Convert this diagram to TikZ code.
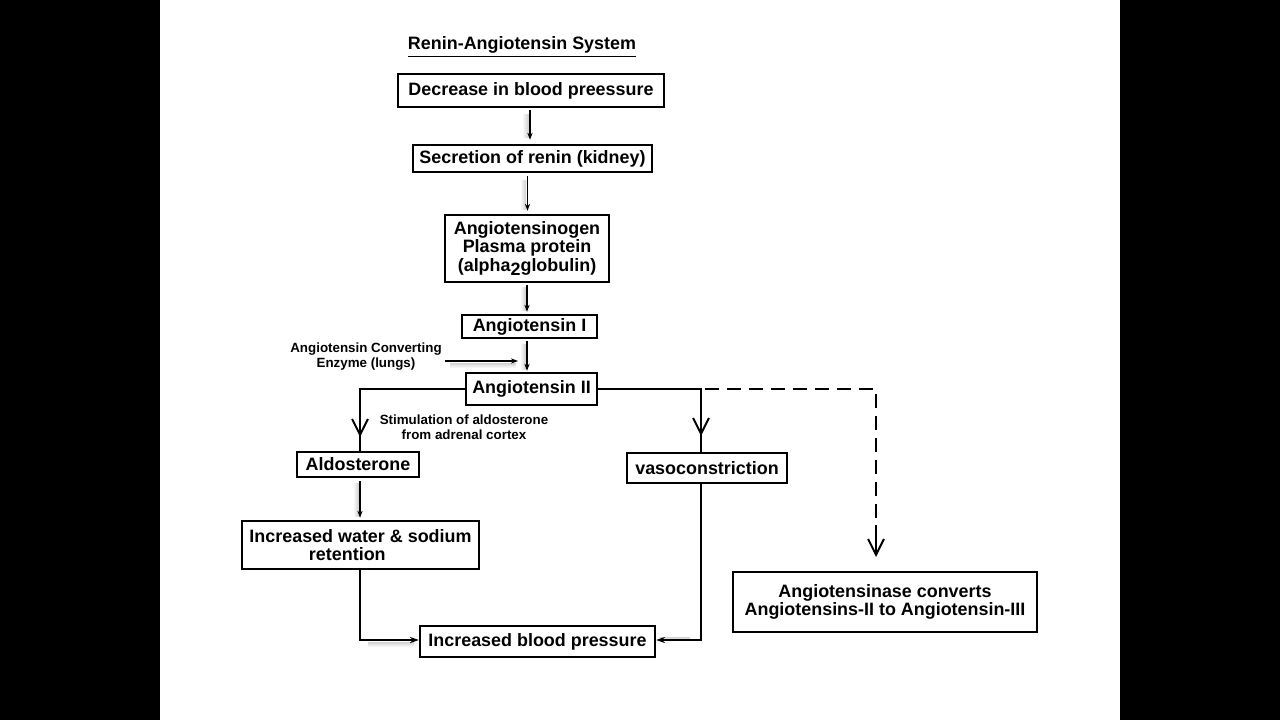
\documentclass[tikz,border=0pt]{standalone}
\usepackage{fontspec}
\setmainfont{Liberation Sans}
\usetikzlibrary{arrows.meta,positioning}
\begin{document}
\begin{tikzpicture}[x=0.02cm,y=-0.02cm,
  box/.style={draw=black,line width=1.4pt,inner sep=0pt,align=center,
     font=\fontsize{10.2}{10.6}\selectfont\bfseries},
  lbl/.style={inner sep=0pt,align=center,font=\fontsize{7.6}{8.6}\selectfont\bfseries},
  thinarr/.style={line width=0.7pt,-{Stealth[length=4pt,width=3pt]}},
  conn/.style={line width=1.1pt},
  barb/.style={line width=1.1pt,-{Straight Barb[length=9pt,width=9pt,line width=1.1pt]}},
  elbow/.style={line width=1.1pt,-{Stealth[length=5pt,width=3.5pt]}},
  dline/.style={line width=1.4pt,dash pattern=on 8pt off 4.5pt},
  vshade/.style={left color=white,right color=gray!40},
  hshade/.style={top color=gray!35,bottom color=white}]
\useasboundingbox (0,0) rectangle (1280,720);
\fill[black] (0,0) rectangle (160,720);
\fill[black] (1120,0) rectangle (1280,720);

% faint shadows beside arrows
\shade[vshade] (522,114) rectangle (529,137);
\shade[vshade] (520,180) rectangle (526,209);
\shade[vshade] (520,287) rectangle (526,310);
\shade[vshade] (520,344) rectangle (526,369);
\shade[vshade] (353,483) rectangle (359,516);
\shade[hshade] (450,363) rectangle (516,368);
\shade[hshade] (368,642) rectangle (414,647);
\shade[hshade] (660,637) rectangle (690,641);

\node[inner sep=0pt,font=\fontsize{10.2}{11}\selectfont\bfseries] (title) at (522,47) {\underline{Renin-Angiotensin System}};

\node[box,fill=white,minimum width=266*0.02cm,minimum height=33*0.02cm] (dec) at (531,90.5) {Decrease in blood preessure};
\node[box,minimum width=239*0.02cm,minimum height=27*0.02cm] (sec) at (532.5,158.5) {Secretion of renin (kidney)};
\node[box,minimum width=164*0.02cm,minimum height=67*0.02cm] (agen) at (527,248.5) {Angiotensinogen\\Plasma protein\\(alpha\raisebox{-0.45ex}{2}globulin)};
\node[box,minimum width=135*0.02cm,minimum height=23*0.02cm] (a1) at (529.5,326.5) {Angiotensin I};
\node[box,minimum width=131*0.02cm,minimum height=32*0.02cm] (a2) at (531.5,389) {Angiotensin II};
\node[box,minimum width=122*0.02cm,minimum height=25*0.02cm] (ald) at (358,464.5) {Aldosterone};
\node[box,minimum width=160*0.02cm,minimum height=30*0.02cm] (vaso) at (707,468) {vasoconstriction};
\node[box,minimum width=237*0.02cm,minimum height=48*0.02cm] (water) at (360.5,545) {Increased water \& sodium\\retention\hspace*{15pt}};
\node[box,minimum width=235*0.02cm,minimum height=31*0.02cm] (ibp) at (537.5,641.5) {Increased blood pressure};
\node[box,minimum width=304*0.02cm,minimum height=60*0.02cm] (ase) at (885,602) {Angiotensinase converts\\Angiotensins-II to Angiotensin-III};

\node[lbl] (ace) at (366,356.5) {Angiotensin Converting\\Enzyme (lungs)};
\node[lbl] (stim) at (464,427) {Stimulation of aldosterone\\from adrenal cortex};

% vertical thin arrows
\draw[thinarr] ([xshift=-0.02cm]dec.south) ++(0,2) coordinate (d1) -- ([yshift=0.08cm]sec.north -| d1);
\draw[thinarr] ([xshift=-0.1cm]sec.south) ++(0,3) coordinate (d2) -- ([yshift=0.06cm]agen.north -| d2);
\draw[thinarr] (agen.south) ++(0,2) coordinate (d3) -- ([yshift=0.04cm]a1.north -| d3);
\draw[thinarr] ([xshift=-0.05cm]a1.south) ++(0,2) coordinate (d4) -- ([yshift=0.02cm]a2.north -| d4);
\coordinate (acetip) at (518,361);
\draw[thinarr] (445,361) coordinate (acestart) -- (acetip);
\draw[thinarr] ([xshift=0.04cm]ald.south) ++(0,3) coordinate (d5) -- ([yshift=0.04cm]water.north -| d5);

% left branch
\coordinate (lc) at (360,389);
\coordinate (ltip) at (360,437);
\draw[conn] (a2.west) -- (lc) -- (ltip);
\draw[barb] (360,420) -- (ltip);
\draw[conn] (ltip) -- (ltip |- ald.north);

% right branch
\coordinate (rc) at (701,389);
\coordinate (rtip) at (701,436);
\draw[conn] (a2.east) -- (rc) -- (rtip);
\draw[barb] (701,420) -- (rtip);
\draw[conn] (rtip) -- (rtip |- vaso.north);

% dashed branch
\coordinate (dc) at (876,389);
\coordinate (dtip) at (876,557);
\draw[dline] (rc) ++(4,0) -- (dc) -- (876,545);
\draw[barb] (876,540) -- (dtip);

% bottom
\coordinate (wb) at (360,640);
\draw[elbow] (water.south -| wb) -- (wb) -- (ibp.west |- wb);
\coordinate (vb) at (701,640);
\draw[elbow] (vaso.south -| vb) -- (vb) -- (ibp.east |- vb);
\end{tikzpicture}
\end{document}
